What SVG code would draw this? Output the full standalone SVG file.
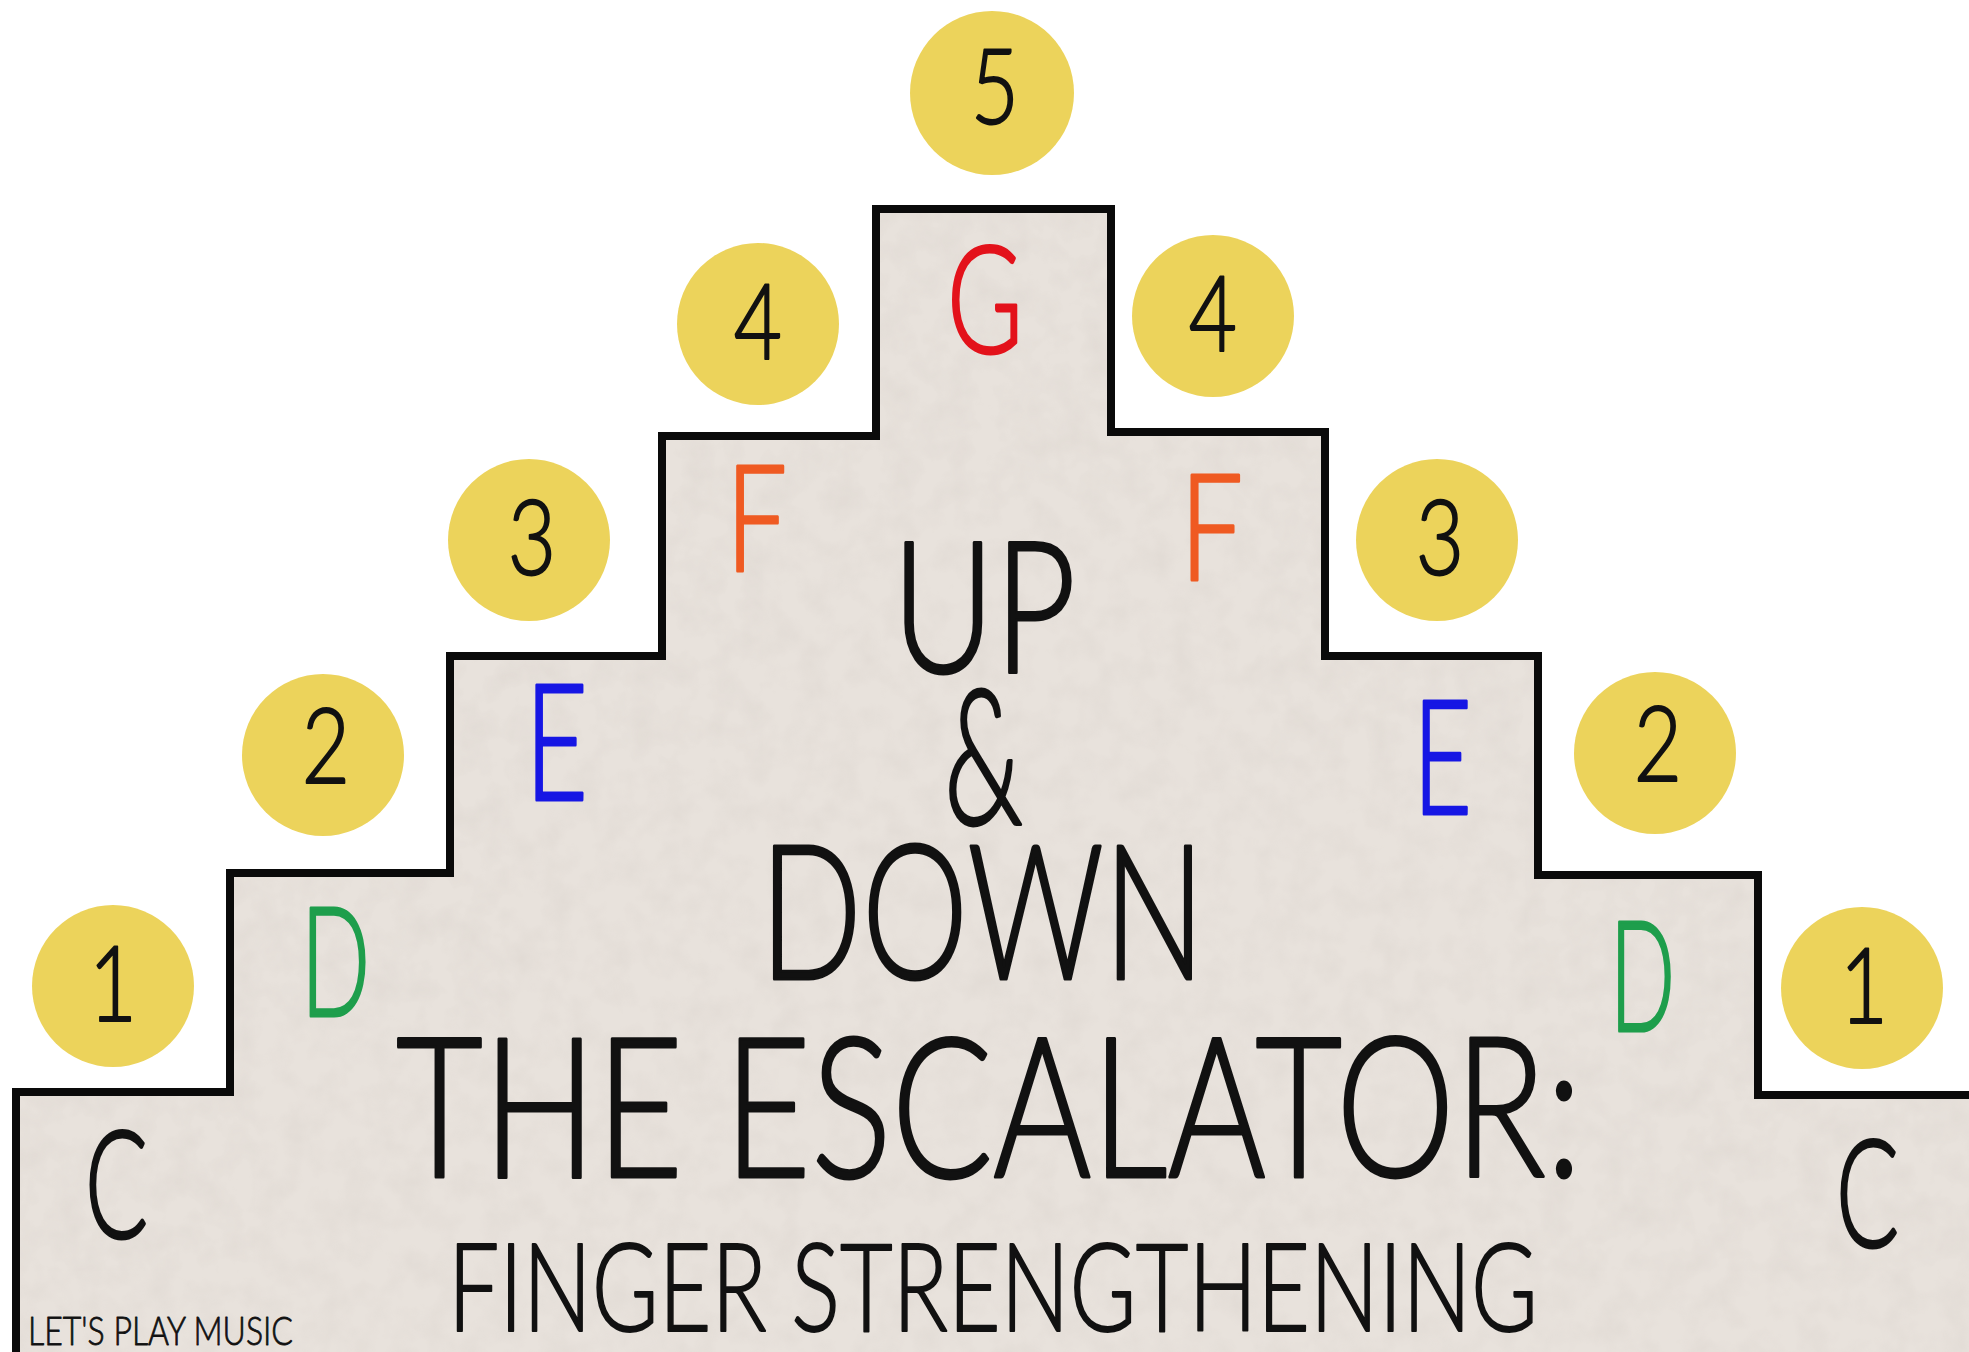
<svg xmlns="http://www.w3.org/2000/svg" width="1969" height="1352" viewBox="0 0 1969 1352">
<style>
.t{font-family:Lato,"Liberation Sans","DejaVu Sans",sans-serif;font-weight:300;fill:#111;stroke:#111;stroke-width:3;stroke-linejoin:round}
.num{font-size:104px;stroke-width:2}
.small{stroke-width:0.8}
.red{fill:#E3121B;stroke:#E3121B}
.orange{fill:#EF5A22;stroke:#EF5A22}
.blue{fill:#1616E4;stroke:#1616E4}
.green{fill:#1E9E4C;stroke:#1E9E4C}
.coin{fill:#ECD35B}
.stroke{fill:none;stroke:#0a0a0a;stroke-width:8;stroke-linejoin:miter}
</style>
<defs>
<filter id="tex" x="0" y="0" width="100%" height="100%">
<feTurbulence type="fractalNoise" baseFrequency="0.035" numOctaves="3" seed="4" result="n"/>
<feColorMatrix in="n" type="matrix" values="0 0 0 0 0.55  0 0 0 0 0.5  0 0 0 0 0.46  0 0 0 -1.6 1.0"/>
<feComposite operator="in" in2="SourceGraphic"/>
</filter>
<clipPath id="stairClip">
<path d="M16,1352 V1092 H230 V873 H450 V656 H662 V436 H876 V209 H1111 V432 H1325 V656 H1538 V875 H1758 V1095 H1969 V1352 Z"/>
</clipPath>
</defs>
<rect width="1969" height="1352" fill="#ffffff"/>
<g id="staircase">
<path d="M16,1352 V1092 H230 V873 H450 V656 H662 V436 H876 V209 H1111 V432 H1325 V656 H1538 V875 H1758 V1095 H1969 V1352 Z" fill="#E8E2DC"/>
<rect width="1969" height="1352" fill="#fff" clip-path="url(#stairClip)" filter="url(#tex)" opacity="0.18"/>
<path class="stroke" d="M16,1352 V1092 H230 V873 H450 V656 H662 V436 H876 V209 H1111 V432 H1325 V656 H1538 V875 H1758 V1095 H1969"/>
</g>
<g id="connectors"></g>
<g id="coin-5"><circle class="coin" cx="992" cy="93" r="82"/><text class="t num" text-anchor="middle" transform="translate(995,124) scale(0.8,1)">5</text></g>
<g id="coin-4-left"><circle class="coin" cx="758" cy="324" r="81"/><text class="t num" text-anchor="middle" transform="translate(758,359) scale(0.8,1)">4</text></g>
<g id="coin-4-right"><circle class="coin" cx="1213" cy="316" r="81"/><text class="t num" text-anchor="middle" transform="translate(1213,351) scale(0.8,1)">4</text></g>
<g id="coin-3-left"><circle class="coin" cx="529" cy="540" r="81"/><text class="t num" text-anchor="middle" transform="translate(532,575) scale(0.8,1)">3</text></g>
<g id="coin-3-right"><circle class="coin" cx="1437" cy="540" r="81"/><text class="t num" text-anchor="middle" transform="translate(1440,575) scale(0.8,1)">3</text></g>
<g id="coin-2-left"><circle class="coin" cx="323" cy="755" r="81"/><text class="t num" text-anchor="middle" transform="translate(326,783) scale(0.8,1)">2</text></g>
<g id="coin-2-right"><circle class="coin" cx="1655" cy="753" r="81"/><text class="t num" text-anchor="middle" transform="translate(1658,781) scale(0.8,1)">2</text></g>
<g id="coin-1-left"><circle class="coin" cx="113" cy="986" r="81"/><text class="t num" text-anchor="middle" transform="translate(113,1021) scale(0.8,1)">1</text></g>
<g id="coin-1-right"><circle class="coin" cx="1862" cy="988" r="81"/><text class="t num" text-anchor="middle" transform="translate(1864,1023) scale(0.8,1)">1</text></g>
<g id="note-C-left"><text class="t" x="85" y="1238" font-size="150" textLength="63" lengthAdjust="spacingAndGlyphs">C</text></g>
<g id="note-D-left"><text class="t green" x="301" y="1016" font-size="152" textLength="69" lengthAdjust="spacingAndGlyphs">D</text></g>
<g id="note-E-left"><text class="t blue" x="525" y="800" font-size="162" textLength="63" lengthAdjust="spacingAndGlyphs">E</text></g>
<g id="note-F-left"><text class="t orange" x="726" y="571" font-size="148" textLength="61" lengthAdjust="spacingAndGlyphs">F</text></g>
<g id="note-G"><text class="t red" x="947" y="353" font-size="150" textLength="76" lengthAdjust="spacingAndGlyphs">G</text></g>
<g id="note-F-right"><text class="t orange" x="1180" y="580" font-size="148" textLength="63" lengthAdjust="spacingAndGlyphs">F</text></g>
<g id="note-E-right"><text class="t blue" x="1413" y="814" font-size="160" textLength="59" lengthAdjust="spacingAndGlyphs">E</text></g>
<g id="note-D-right"><text class="t green" x="1610" y="1031" font-size="154" textLength="65" lengthAdjust="spacingAndGlyphs">D</text></g>
<g id="note-C-right"><text class="t" x="1836" y="1247" font-size="150" textLength="63" lengthAdjust="spacingAndGlyphs">C</text></g>
<g id="title">
<text class="t" x="892" y="672" font-size="184" textLength="184" lengthAdjust="spacingAndGlyphs">UP</text>
<text class="t" x="944" y="824" font-size="190" textLength="79" lengthAdjust="spacingAndGlyphs">&amp;</text>
<text class="t" x="760" y="979" font-size="188" textLength="445" lengthAdjust="spacingAndGlyphs">DOWN</text>
<text class="t" x="396" y="1177" font-size="196" textLength="1186" lengthAdjust="spacingAndGlyphs">THE ESCALATOR:</text>
<text class="t" x="448" y="1331" font-size="123" textLength="1090" lengthAdjust="spacingAndGlyphs" style="stroke-width:2">FINGER STRENGTHENING</text>
</g>
<g id="credit"><text class="t small" x="28" y="1345" font-size="39" textLength="265" lengthAdjust="spacingAndGlyphs">LET'S PLAY MUSIC</text></g>
</svg>
